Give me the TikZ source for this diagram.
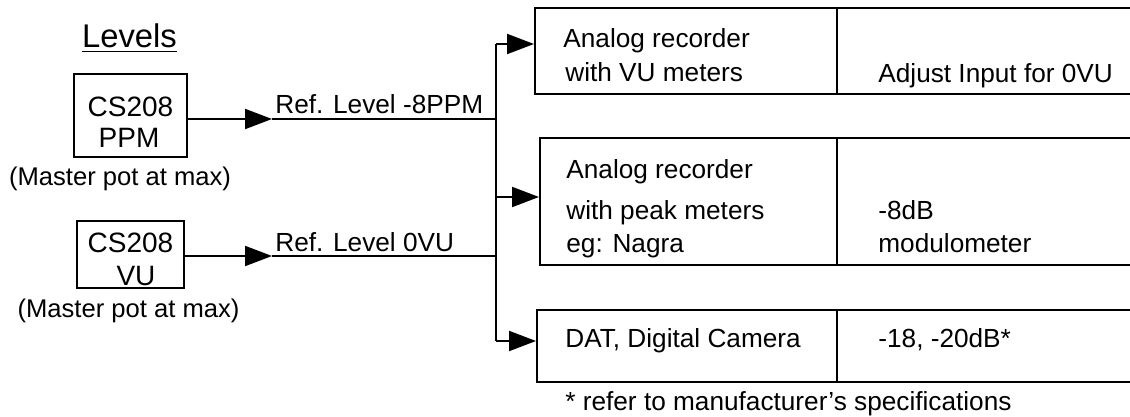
\documentclass[tikz,border=0pt]{standalone}
\usepackage{fontspec}
\setmainfont{Liberation Sans}
\usetikzlibrary{arrows.meta,positioning}
\tikzset{
  srcbox/.style={rectangle, draw=black, line width=1pt, inner sep=0pt},
  cell/.style={rectangle, draw=black, line width=1pt, inner sep=0pt, anchor=north west},
  txt/.style={anchor=base west, inner sep=0pt, font=\fontsize{13.1}{15}\selectfont},
  ctxt/.style={anchor=base, inner sep=0pt, font=\fontsize{12.8}{15}\selectfont},
  srctxt/.style={anchor=base, inner sep=0pt, font=\fontsize{14}{16}\selectfont},
  flow/.style={-{Triangle[length=13.5pt,width=10pt]}, line width=1pt},
  wire/.style={line width=1pt}
}
\begin{document}
\begin{tikzpicture}[x=0.5pt, y=-0.5pt]
  \useasboundingbox (0,0) rectangle (1130,417);
  \clip (0,0) rectangle (1130,417);

  % sources
  \node[anchor=base, inner sep=0pt, font=\fontsize{16.4}{18}\selectfont] (lev) at (129.5,48) {\underline{Levels}};
  \node[srcbox, minimum width=56.5pt, minimum height=41.5pt] (ppm) at (130.5,115.5) {};
  \node[srctxt] (ppmA) at (130.5,117) {CS208};
  \node[srctxt] (ppmB) at (129,148) {PPM};
  \node[ctxt] (pot1) at (120,185) {(Master pot at max)};
  \node[srcbox, minimum width=53.5pt, minimum height=33.5pt] (vu) at (130.5,254.5) {};
  \node[srctxt] (vuA) at (130.5,252) {CS208};
  \node[srctxt] (vuB) at (136,285) {VU};
  \node[ctxt] (pot2) at (128.5,317) {(Master pot at max)};

  % recorders
  \node[cell, minimum width=151pt, minimum height=43pt] (rec1) at (534,7) {};
  \node[cell, minimum width=155pt, minimum height=43pt] (set1) at (836,7) {};
  \node[cell, minimum width=148.5pt, minimum height=63.5pt] (rec2) at (539,137) {};
  \node[cell, minimum width=155pt, minimum height=63.5pt] (set2) at (836,137) {};
  \node[cell, minimum width=150pt, minimum height=36pt] (rec3) at (536,309) {};
  \node[cell, minimum width=155pt, minimum height=36pt] (set3) at (836,309) {};

  \node[txt] (r1a) at (563,48) {Analog recorder};
  \node[txt] (r1b) at (565,82) {with VU meters};
  \node[txt] (s1) at (878,83) {Adjust Input for 0VU};
  \node[txt] (r2a) at (566,178) {Analog recorder};
  \node[txt] (r2b) at (566,220) {with peak meters};
  \node[txt] (r2c) at (566,252) {eg: Nagra};
  \node[txt] (s2a) at (878,220) {-8dB};
  \node[txt] (s2b) at (878,252) {modulometer};
  \node[txt] (r3) at (565,347) {DAT, Digital Camera};
  \node[txt] (s3) at (878,347) {-18, -20dB*};
  \node[txt] (note) at (565,410) {* refer to manufacturer’s specifications};

  % bus
  \coordinate (a1) at (272,119);
  \coordinate (a2) at (272,256);
  \coordinate (j1) at (496,119);
  \coordinate (j2) at (496,256);
  \coordinate (b1) at (496,44);
  \coordinate (b2) at (496,197);
  \coordinate (b3) at (496,341);

  \draw[flow] (ppm.east |- a1) -- (a1);
  \draw[wire] (a1) -- (j1);
  \node[txt] (lbl1) at (275,114) {Ref. Level -8PPM};
  \draw[flow] (vu.east |- a2) -- (a2);
  \draw[wire] (a2) -- (j2);
  \node[txt] (lbl2) at (275,251) {Ref. Level 0VU};

  \draw[wire] (b1) -- (b3);
  \draw[flow] (b1) -- (b1 -| rec1.west);
  \draw[flow] (b2) -- (b2 -| rec2.west);
  \draw[flow] (b3) -- (b3 -| rec3.west);
\end{tikzpicture}
\end{document}
